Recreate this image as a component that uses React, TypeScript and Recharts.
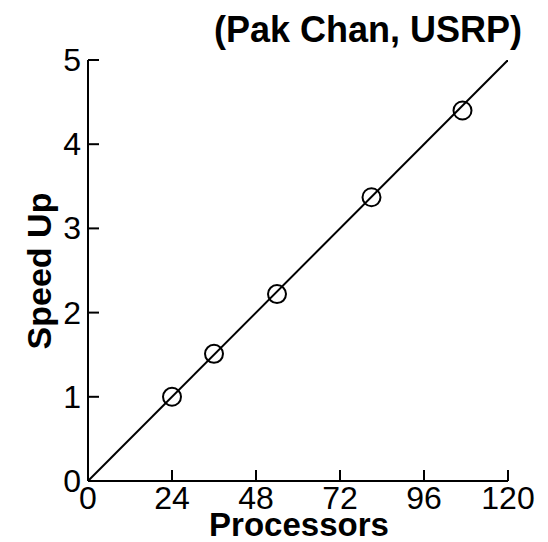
import React from 'react';
import { ComposedChart, Line, Scatter, XAxis, YAxis } from 'recharts';

const processors = [24, 36, 54, 81, 107];
const speedUp = [1.0, 1.51, 2.22, 3.37, 4.4];
const idealProcessors = [0, 120];
const idealSpeedUp = [0, 5];
const xTicks = [0, 24, 48, 72, 96, 120];
const yTicks = [0, 1, 2, 3, 4, 5];

const measured = processors.map((p, i) => ({ x: p, y: speedUp[i] }));
const ideal = idealProcessors.map((p, i) => ({ x: p, y: idealSpeedUp[i] }));

const FONT = "Arial, 'Liberation Sans', sans-serif";

const XTick = (props: any) => {
    const { x, y, payload } = props;
    return (
        <g>
            <line x1={x} y1={y} x2={x} y2={y - 11} stroke="#000" strokeWidth={2} />
            <text x={x} y={y + 28} textAnchor="middle" fontSize={32} fontFamily={FONT} fill="#000">
                {payload.value}
            </text>
        </g>
    );
};

const YTick = (props: any) => {
    const { x, y, payload } = props;
    return (
        <g>
            <line x1={x} y1={y} x2={x + 11} y2={y} stroke="#000" strokeWidth={2} />
            <text x={x - 7} y={y + 11} textAnchor="end" fontSize={32} fontFamily={FONT} fill="#000">
                {payload.value}
            </text>
        </g>
    );
};

const OpenCircle = (props: any) => {
    const { cx, cy } = props;
    return <circle cx={cx} cy={cy} r={9} fill="none" stroke="#000" strokeWidth={2} />;
};

export default function App() {
    return (
        <div style={{ position: 'absolute', left: 0, top: 0, width: 548, height: 542, background: '#fff' }}>
            <ComposedChart width={548} height={542} margin={{ top: 60, right: 40, bottom: 1, left: 8 }}>
                <XAxis
                    type="number"
                    dataKey="x"
                    domain={[0, 120]}
                    ticks={xTicks}
                    tickSize={0}
                    tickMargin={0}
                    tickLine={false}
                    tick={<XTick />}
                    height={60}
                    axisLine={{ stroke: '#000', strokeWidth: 2 }}
                    allowDataOverflow
                />
                <YAxis
                    type="number"
                    dataKey="y"
                    domain={[0, 5]}
                    ticks={yTicks}
                    tickSize={0}
                    tickMargin={0}
                    tickLine={false}
                    tick={<YTick />}
                    width={80}
                    axisLine={{ stroke: '#000', strokeWidth: 2 }}
                    allowDataOverflow
                />
                <Line data={ideal} dataKey="y" stroke="#000" strokeWidth={2} dot={false} isAnimationActive={false} />
                <Scatter data={measured} dataKey="y" shape={<OpenCircle />} isAnimationActive={false} />
                <text x={368} y={42} textAnchor="middle" fontSize={36} fontWeight="bold" fontFamily={FONT} fill="#000">
                    (Pak Chan, USRP)
                </text>
                <text x={299} y={536} textAnchor="middle" fontSize={33} fontWeight="bold" fontFamily={FONT} fill="#000">
                    Processors
                </text>
                <text
                    x={51}
                    y={271}
                    textAnchor="middle"
                    fontSize={34}
                    fontWeight="bold"
                    fontFamily={FONT}
                    fill="#000"
                    transform="rotate(-90 51 271)"
                >
                    Speed Up
                </text>
            </ComposedChart>
        </div>
    );
}
